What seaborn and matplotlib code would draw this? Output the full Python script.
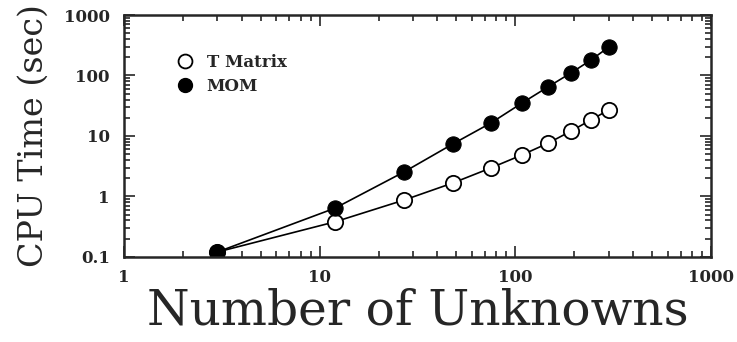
import numpy as np
import pandas as pd
import seaborn as sns
import matplotlib.pyplot as plt
from matplotlib.lines import Line2D
from matplotlib.ticker import LogLocator, NullFormatter

# data
unknowns = [3, 12, 27, 48, 75, 108, 147, 192, 243, 300]
t_matrix = [0.12, 0.38, 0.87, 1.67, 2.96, 4.85, 7.6, 12.0, 18.4, 27.0]
mom = [0.12, 0.64, 2.54, 7.4, 16.4, 35.0, 65.0, 110.0, 180.0, 296.0]

sns.set_style("ticks")
plt.rcParams['font.family'] = ['DejaVu Serif']

df = pd.DataFrame({"n": unknowns * 2,
                   "t": t_matrix + mom,
                   "method": ["T Matrix"] * len(unknowns) + ["MOM"] * len(unknowns)})

fig = plt.figure(figsize=(7.37, 3.42), dpi=100)
ax = fig.add_axes([0.168, 0.249, 0.797, 0.707])

sns.lineplot(data=df[df.method == "T Matrix"], x="n", y="t", ax=ax, color="black",
             lw=1.2, marker="o", markersize=11, markerfacecolor="white",
             markeredgecolor="black", markeredgewidth=1.3)
sns.lineplot(data=df[df.method == "MOM"], x="n", y="t", ax=ax, color="black",
             lw=1.2, marker="o", markersize=11, markerfacecolor="black",
             markeredgecolor="black")

ax.set_xscale("log")
ax.set_yscale("log")
ax.set_xlim(1, 1000)
ax.set_ylim(0.1, 1000)

ax.set_xticks([1, 10, 100, 1000])
ax.set_xticklabels(["1", "10", "100", "1000"])
ax.set_yticks([0.1, 1, 10, 100, 1000])
ax.set_yticklabels(["0.1", "1", "10", "100", "1000"])
ax.xaxis.set_minor_locator(LogLocator(base=10, subs=np.arange(2, 10)))
ax.yaxis.set_minor_locator(LogLocator(base=10, subs=np.arange(2, 10)))
ax.xaxis.set_minor_formatter(NullFormatter())
ax.yaxis.set_minor_formatter(NullFormatter())

ax.tick_params(which="both", direction="in", top=True, right=True, width=1.2)
ax.tick_params(which="major", length=8, labelsize=12)
ax.tick_params(axis="x", which="major", pad=9)
ax.tick_params(axis="y", which="major", pad=10)
ax.tick_params(which="minor", length=4)
for lab in ax.get_xticklabels() + ax.get_yticklabels():
    lab.set_fontweight("bold")
for s in ax.spines.values():
    s.set_linewidth(1.8)

ax.set_xlabel("Number of Unknowns", fontsize=35, labelpad=1)
ax.set_ylabel("CPU Time (sec)", fontsize=24, labelpad=10)

handles = [Line2D([], [], ls="none", marker="o", markersize=10, markerfacecolor="white",
                  markeredgecolor="black", markeredgewidth=1.3),
           Line2D([], [], ls="none", marker="o", markersize=10, markerfacecolor="black",
                  markeredgecolor="black")]
leg = ax.legend(handles, ["T Matrix", "MOM"], loc="upper left", bbox_to_anchor=(0.05, 0.9),
                frameon=False, prop={"size": 12, "weight": "bold"}, handletextpad=0.3,
                labelspacing=0.4)

fig.savefig("out.png", dpi=100)
